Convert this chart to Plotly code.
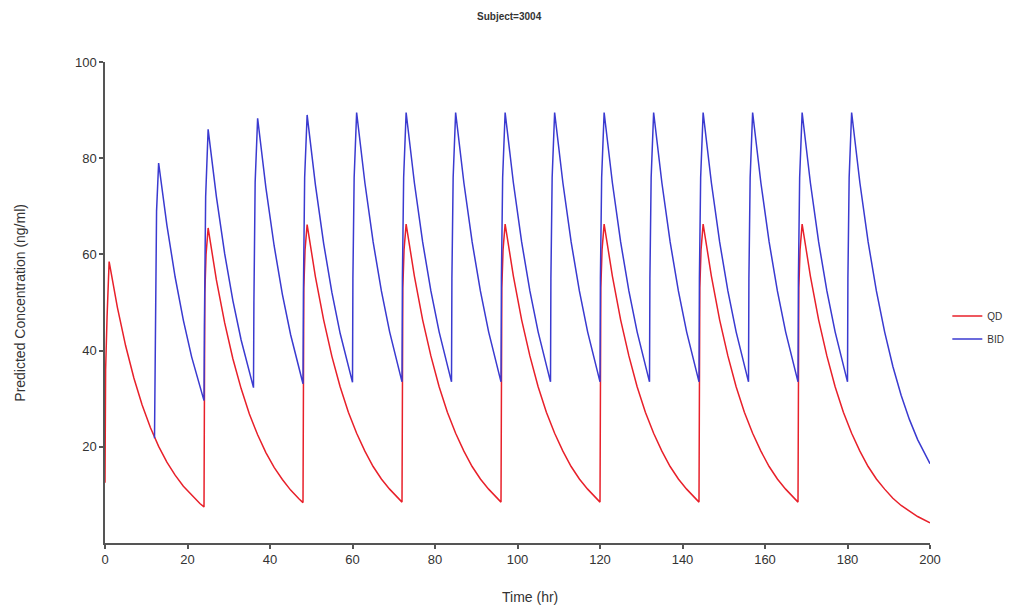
import plotly.graph_objects as go

# QD (once daily) predicted concentration
qd_time = [
    0, 0.15, 0.5, 1, 3, 5, 7, 9, 11, 13, 15, 17, 19, 21, 23, 24,
    24.2, 24.5, 25, 27, 29, 31, 33, 35, 37, 39, 41, 43, 45, 47, 48,
    48.2, 48.5, 49, 51, 53, 55, 57, 59, 61, 63, 65, 67, 69, 71, 72,
    72.2, 72.5, 73, 75, 77, 79, 81, 83, 85, 87, 89, 91, 93, 95, 96,
    96.2, 96.5, 97, 99, 101, 103, 105, 107, 109, 111, 113, 115, 117, 119, 120,
    120.2, 120.5, 121, 123, 125, 127, 129, 131, 133, 135, 137, 139, 141, 143, 144,
    144.2, 144.5, 145, 147, 149, 151, 153, 155, 157, 159, 161, 163, 165, 167, 168,
    168.2, 168.5, 169, 171, 173, 175, 177, 179, 181, 183, 185, 187, 189, 191, 193, 195, 197, 200,
]
qd_conc = [
    12.5, 36, 47, 58.5, 49, 41, 34.3, 28.7, 24.0, 20.1, 16.8, 14.1, 11.8, 9.9, 8.2, 7.5,
    52, 60, 65.5, 54.7, 45.8, 38.3, 32.1, 26.8, 22.5, 18.8, 15.7, 13.2, 11.0, 9.2, 8.4,
    53, 61, 66.2, 55.4, 46.4, 38.8, 32.5, 27.2, 22.8, 19.1, 15.9, 13.3, 11.2, 9.3, 8.5,
    53, 61, 66.3, 55.5, 46.4, 38.9, 32.5, 27.2, 22.8, 19.1, 15.9, 13.3, 11.2, 9.3, 8.5,
    53, 61, 66.3, 55.5, 46.4, 38.9, 32.5, 27.2, 22.8, 19.1, 15.9, 13.3, 11.2, 9.3, 8.5,
    53, 61, 66.3, 55.5, 46.4, 38.9, 32.5, 27.2, 22.8, 19.1, 15.9, 13.3, 11.2, 9.3, 8.5,
    53, 61, 66.3, 55.5, 46.4, 38.9, 32.5, 27.2, 22.8, 19.1, 15.9, 13.3, 11.2, 9.3, 8.5,
    53, 61, 66.3, 55.5, 46.4, 38.9, 32.5, 27.2, 22.8, 19.1, 15.9, 13.3, 11.2, 9.3, 7.8, 6.6, 5.5, 4.2,
]

# BID (twice daily) predicted concentration
bid_time = [
    12, 12.1, 12.5, 13, 15, 17, 19, 21, 23, 24,
    24.1, 24.4, 25, 27, 29, 31, 33, 35, 36,
    36.1, 36.4, 37, 39, 41, 43, 45, 47, 48,
    48.1, 48.4, 49, 51, 53, 55, 57, 59, 60,
    60.1, 60.4, 61, 63, 65, 67, 69, 71, 72,
    72.1, 72.4, 73, 75, 77, 79, 81, 83, 84,
    84.1, 84.4, 85, 87, 89, 91, 93, 95, 96,
    96.1, 96.4, 97, 99, 101, 103, 105, 107, 108,
    108.1, 108.4, 109, 111, 113, 115, 117, 119, 120,
    120.1, 120.4, 121, 123, 125, 127, 129, 131, 132,
    132.1, 132.4, 133, 135, 137, 139, 141, 143, 144,
    144.1, 144.4, 145, 147, 149, 151, 153, 155, 156,
    156.1, 156.4, 157, 159, 161, 163, 165, 167, 168,
    168.1, 168.4, 169, 171, 173, 175, 177, 179, 180,
    180.1, 180.4, 181, 183, 185, 187, 189, 191, 193, 195, 197, 199, 200,
]
bid_conc = [
    21.8, 35, 69, 79, 66.1, 55.3, 46.3, 38.7, 32.4, 29.6,
    45, 72, 86, 72.0, 60.2, 50.4, 42.2, 35.3, 32.3,
    50, 75, 88.3, 73.9, 61.8, 51.7, 43.3, 36.2, 33.1,
    52, 76, 89, 74.5, 62.3, 52.1, 43.6, 36.5, 33.4,
    55, 76, 89.5, 74.9, 62.6, 52.4, 43.9, 36.7, 33.5,
    55, 76, 89.5, 74.9, 62.6, 52.4, 43.9, 36.7, 33.5,
    55, 76, 89.5, 74.9, 62.6, 52.4, 43.9, 36.7, 33.5,
    55, 76, 89.5, 74.9, 62.6, 52.4, 43.9, 36.7, 33.5,
    55, 76, 89.5, 74.9, 62.6, 52.4, 43.9, 36.7, 33.5,
    55, 76, 89.5, 74.9, 62.6, 52.4, 43.9, 36.7, 33.5,
    55, 76, 89.5, 74.9, 62.6, 52.4, 43.9, 36.7, 33.5,
    55, 76, 89.5, 74.9, 62.6, 52.4, 43.9, 36.7, 33.5,
    55, 76, 89.5, 74.9, 62.6, 52.4, 43.9, 36.7, 33.5,
    55, 76, 89.5, 74.9, 62.6, 52.4, 43.9, 36.7, 33.5,
    55, 76, 89.5, 74.9, 62.6, 52.4, 43.9, 36.7, 30.7, 25.7, 21.5, 18.0, 16.5,
]

x_ticks = [0, 20, 40, 60, 80, 100, 120, 140, 160, 180, 200]
y_ticks = [20, 40, 60, 80, 100]

fig = go.Figure()
fig.add_trace(go.Scatter(x=qd_time, y=qd_conc, mode="lines", name="QD",
                         legendgroup="a",
                         line=dict(color="#e8202a", width=1.5)))
fig.add_trace(go.Scatter(x=bid_time, y=bid_conc, mode="lines", name="BID",
                         legendgroup="b",
                         line=dict(color="#3a3ad0", width=1.5)))

FONT = "Liberation Sans, Arial, sans-serif"
axis_font = dict(family=FONT, size=13, color="#333333")

fig.update_layout(
    width=1001, height=598,
    margin=dict(l=97, r=79, t=54, b=63, autoexpand=False),
    paper_bgcolor="white", plot_bgcolor="white",
    showlegend=True,
    legend=dict(x=1.021, y=0.448, yanchor="middle", xanchor="left",
                font=dict(family=FONT, size=10, color="#333333"),
                tracegroupgap=4, bgcolor="rgba(0,0,0,0)"),
    xaxis=dict(range=[0, 200], tickvals=x_ticks, showgrid=False, zeroline=False,
               showline=True, linecolor="#555555", linewidth=1.5,
               ticks="outside", ticklen=4, tickcolor="#555555", tickwidth=1.5,
               tickfont=axis_font),
    yaxis=dict(range=[0, 100], tickvals=y_ticks, showgrid=False, zeroline=False,
               showline=True, linecolor="#555555", linewidth=1.5,
               ticks="outside", ticklen=4, tickcolor="#555555", tickwidth=1.5,
               tickfont=axis_font),
    annotations=[
        dict(text="<b>Subject=3004</b>", xref="paper", yref="paper",
             x=0.49, y=1.095, showarrow=False, xanchor="center", yanchor="middle",
             font=dict(family=FONT, size=10, color="#333333")),
        dict(text="Time (hr)", xref="paper", yref="paper",
             x=0.515, y=-0.112, showarrow=False, xanchor="center", yanchor="middle",
             font=dict(family=FONT, size=14, color="#333333")),
        dict(text="Predicted Concentration (ng/ml)", xref="paper", yref="paper",
             x=-0.104, y=0.5, showarrow=False, textangle=-90,
             xanchor="center", yanchor="middle",
             font=dict(family=FONT, size=14, color="#333333")),
    ],
)

fig.write_html("out.html")
